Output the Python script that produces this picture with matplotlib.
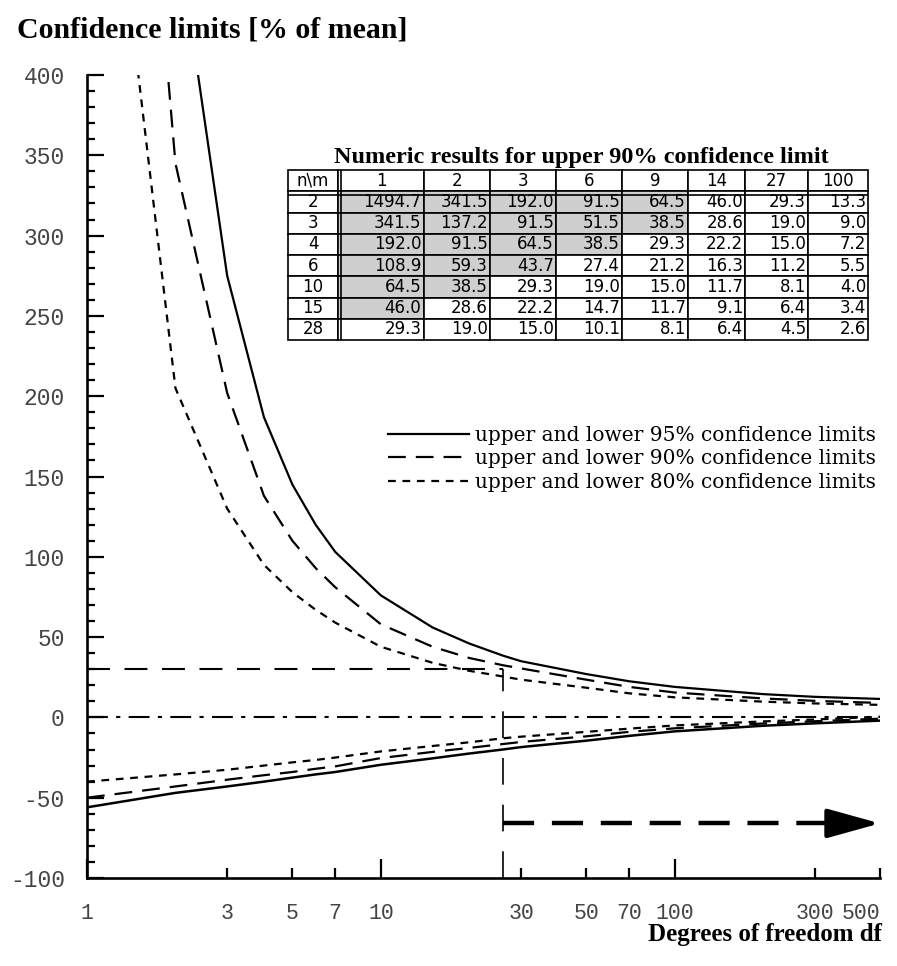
import numpy as np
import matplotlib.pyplot as plt

# degrees of freedom at which the curves were read
df = [1, 2, 3, 4, 5, 6, 7, 10, 15, 20, 26, 30, 50, 70, 100, 200, 300, 500]

# confidence limits [% of mean]
upper95 = [1500, 497, 275, 187, 145, 120, 103, 76, 56, 46, 38.5, 35, 27, 22.5, 19, 14.5, 12.8, 11.5]
upper90 = [990, 345, 202, 138, 110, 93, 81, 58, 44, 37, 32.5, 30.5, 23.5, 19, 15.5, 11.8, 10.3, 9]
upper80 = [670, 205, 130, 95, 78, 67, 59, 44, 34, 29, 25.5, 23.5, 18.5, 15, 12.5, 9.8, 8.7, 7.8]
lower95 = [-56, -47, -43, -40, -37.5, -35.5, -34, -29.5, -25.5, -22.5, -20, -18.5, -14.5, -11.5, -8.7, -5.2, -3.7, -2]
lower90 = [-50, -43, -38.8, -36, -34, -32, -30.5, -25.3, -21.5, -19, -16.6, -15.3, -11.8, -9, -6.8, -3.8, -2.4, -0.8]
lower80 = [-40, -35.5, -32.6, -30, -28, -26.5, -25, -21.2, -17.8, -15.5, -13, -12, -9, -7, -5, -2.5, -1.3, 0.4]

# reference lines
df_mark = 26
level_mark = 30
arrow_level = -66

# table: upper 90% confidence limit
tab_cols = ["1", "2", "3", "6", "9", "14", "27", "100"]
tab_rows = ["2", "3", "4", "6", "10", "15", "28"]
tab_vals = [
    [1494.7, 341.5, 192.0, 91.5, 64.5, 46.0, 29.3, 13.3],
    [341.5, 137.2, 91.5, 51.5, 38.5, 28.6, 19.0, 9.0],
    [192.0, 91.5, 64.5, 38.5, 29.3, 22.2, 15.0, 7.2],
    [108.9, 59.3, 43.7, 27.4, 21.2, 16.3, 11.2, 5.5],
    [64.5, 38.5, 29.3, 19.0, 15.0, 11.7, 8.1, 4.0],
    [46.0, 28.6, 22.2, 14.7, 11.7, 9.1, 6.4, 3.4],
    [29.3, 19.0, 15.0, 10.1, 8.1, 6.4, 4.5, 2.6],
]
# number of shaded cells in each row
tab_shaded = [5, 5, 4, 3, 2, 1, 0]

W, H = 897, 966
fig = plt.figure(figsize=(W / 100, H / 100), dpi=100)
ax = fig.add_axes([87 / W, 88 / H, 793 / W, 803 / H])

ax.plot(df, upper95, color="k", lw=1.6, label="upper and lower 95% confidence limits")
ax.plot(df, upper90, color="k", lw=1.6, linestyle=(0, (8, 4.5)),
        label="upper and lower 90% confidence limits")
ax.plot(df, upper80, color="k", lw=1.6, linestyle=(0, (3.5, 3)),
        label="upper and lower 80% confidence limits")
ax.plot(df, lower95, color="k", lw=1.8)
ax.plot(df, lower90, color="k", lw=1.6, linestyle=(0, (8, 4.5)))
ax.plot(df, lower80, color="k", lw=1.6, linestyle=(0, (3.5, 3)))

# 30% level, zero line, df marker and arrow
ax.plot([1, df_mark], [level_mark, level_mark], color="k", lw=1.5, linestyle=(0, (11, 7)))
ax.axhline(0, color="k", lw=1.5, linestyle=(0, (10, 4, 2, 4)))
ax.plot([df_mark, df_mark], [-100, level_mark], color="k", lw=1.2, linestyle=(0, (16, 12)))
ax.plot([df_mark, 410], [arrow_level, arrow_level], color="k", lw=3.2, linestyle=(0, (7, 4)))
ax.annotate("", xy=(500, arrow_level), xytext=(410, arrow_level),
            arrowprops=dict(arrowstyle="-|>,head_length=1.3,head_width=0.36",
                            mutation_scale=25, lw=3.2, color="k",
                            shrinkA=0, shrinkB=0))

ax.set_xscale("log")
ax.set_xlim(1, 500)
ax.set_ylim(-100, 400)
for s in ["top", "right"]:
    ax.spines[s].set_visible(False)
for s in ["left", "bottom"]:
    ax.spines[s].set_linewidth(1.9)

mono = "Liberation Mono"
tick_col = "#444444"
ax.set_yticks(np.arange(-100, 401, 50))
ax.set_yticks(np.arange(-100, 401, 10), minor=True)
ax.set_yticklabels([str(v) for v in range(-100, 401, 50)], family=mono, fontsize=16.5, color=tick_col)
ax.set_xticks([1, 10, 100], ["1", "10", "100"], family=mono, fontsize=15.5, color=tick_col)
ax.set_xticks([3, 5, 7, 30, 50, 70, 300, 500],
              ["3", "5", "7", "30", "50", "70", "300", "500"],
              minor=True, family=mono, fontsize=15.5, color=tick_col)
ax.get_xticklabels(minor=True)[-1].set_horizontalalignment("right")
ax.tick_params(axis="y", which="major", direction="in", length=12, width=1.6, pad=16)
ax.tick_params(axis="y", which="minor", direction="in", length=6, width=1.6)
ax.tick_params(axis="x", which="major", direction="in", length=14, width=1.6, pad=18)
ax.tick_params(axis="x", which="minor", direction="in", length=7, width=1.6, pad=18)

serif = "Liberation Serif"
fig.text(17 / W, 1 - 30 / H, "Confidence limits [% of mean]", family=serif,
         fontweight="bold", fontsize=21.5, ha="left", va="center")
fig.text(882 / W, 1 - 935 / H, "Degrees of freedom df", family=serif,
         fontweight="bold", fontsize=18, ha="right", va="center")

ax.legend(loc="upper left", bbox_to_anchor=(388 / W, 1 - 426 / H),
          bbox_transform=fig.transFigure, frameon=False, borderpad=0,
          borderaxespad=0, handlelength=4.0, handletextpad=0.3,
          labelspacing=0.22, prop={"family": "DejaVu Serif", "size": 14.5})

# inset table
tx0, tx1, ty0, ty1 = 288, 868, 170, 340
tax = fig.add_axes([tx0 / W, 1 - ty1 / H, (tx1 - tx0) / W, (ty1 - ty0) / H])
tax.set_axis_off()
tax.set_xlim(0, 1)
tax.set_ylim(0, 1)
widths_px = [50, 86, 66, 66, 66, 66, 57, 63, 60]
cell_text = [[r] + [f"{v:.1f}" for v in vals] for r, vals in zip(tab_rows, tab_vals)]
colours = [["white"] + ["#cfcfcf" if j < k else "white" for j in range(len(tab_cols))]
           for k in tab_shaded]
table = tax.table(cellText=cell_text, colLabels=["n\\m"] + tab_cols,
                  cellColours=colours, colWidths=[w / sum(widths_px) for w in widths_px],
                  cellLoc="right", bbox=[0, 0, 1, 1])
table.auto_set_font_size(False)
table.set_fontsize(12)
for (r, c), cell in table.get_celld().items():
    cell.set_linewidth(1.2)
    cell.get_text().set_family("DejaVu Sans")
    if r == 0 or c == 0:
        cell.get_text().set_horizontalalignment("center")
    cell.PAD = 0.03
xsep = widths_px[0] / sum(widths_px)
tax.plot([xsep + 0.006, xsep + 0.006], [0, 1], color="k", lw=1.2)
tax.plot([0, 1], [7 / 8 - 0.02, 7 / 8 - 0.02], color="k", lw=1.2)

fig.text(581 / W, 1 - 158 / H, "Numeric results for upper 90% confidence limit",
         family=serif, fontweight="bold", fontsize=17.5, ha="center", va="center")

fig.savefig("out.png", dpi=100)
